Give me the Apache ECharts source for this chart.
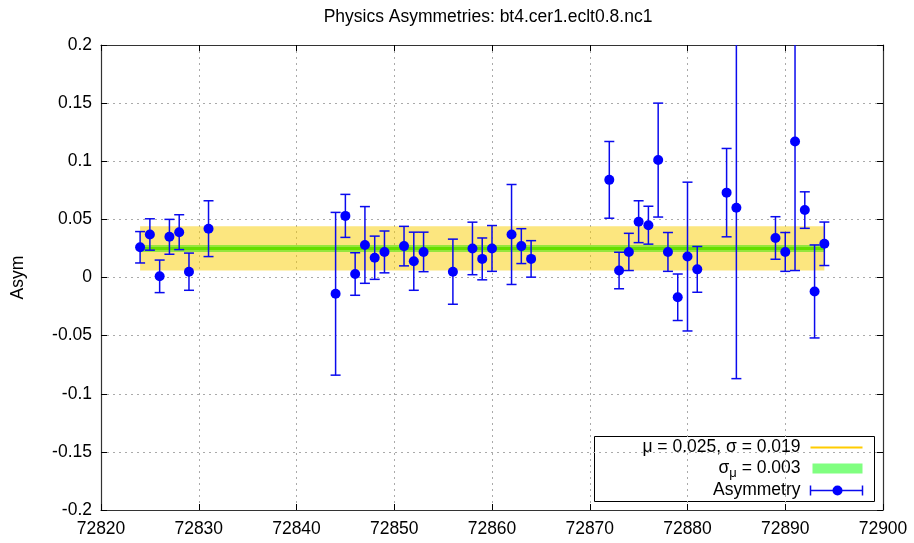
<!DOCTYPE html>
<html><head><meta charset="utf-8">
<script src="https://cdn.jsdelivr.net/npm/echarts@6/dist/echarts.min.js"></script>
<style>html,body{margin:0;padding:0;background:#fff}#c{width:914px;height:543px}</style>
</head><body><div id="c"></div>
<script>
const runs = [72824,72825,72826,72827,72828,72829,72831,72844,72845,72846,72847,72848,72849,72851,72852,72853,72856,72858,72859,72860,72862,72863,72864,72872,72873,72874,72875,72876,72877,72878,72879,72880,72881,72884,72885,72889,72890,72891,72892,72893,72894];
const asym = [0.026,0.037,0.001,0.035,0.039,0.005,0.042,-0.014,0.053,0.003,0.028,0.017,0.022,0.027,0.014,0.022,0.005,0.025,0.016,0.025,0.037,0.027,0.016,0.084,0.006,0.022,0.048,0.045,0.101,0.022,-0.017,0.018,0.007,0.073,0.060,0.034,0.022,0.117,0.058,-0.012,0.029];
const asymErr = [0.0135,0.0135,0.014,0.015,0.015,0.016,0.024,0.070,0.0185,0.0183,0.033,0.0186,0.018,0.017,0.025,0.017,0.028,0.0226,0.018,0.0197,0.043,0.015,0.0157,0.033,0.0157,0.016,0.018,0.0163,0.049,0.0167,0.020,0.064,0.0197,0.038,0.147,0.0183,0.0167,0.111,0.0157,0.040,0.0187];
const mu = 0.025, sigma = 0.019, sigmaMu = 0.003;
const xMin = 72820, xMax = 72900, xStep = 10;
const yMin = -0.2, yMax = 0.2, yStep = 0.05;
const titleText = 'Physics Asymmetries: bt4.cer1.eclt0.8.nc1';
const yName = 'Asym';
const legendMu = 'μ = ' + mu.toFixed(3) + ', σ = ' + sigma.toFixed(3);
const legendSigmaMu = ' = ' + sigmaMu.toFixed(3);
const legendAsym = 'Asymmetry';

const FONT = '"Liberation Sans", Arial, sans-serif';
const FS = 17.5;
const chart = echarts.init(document.getElementById('c'), null, {renderer: 'canvas'});

const x0 = runs[0], x1 = runs[runs.length - 1];
function bandItem(color) {
  return function (params, api) {
    const p0 = api.coord([api.value(0), api.value(2)]);
    const p1 = api.coord([api.value(1), api.value(3)]);
    return {type: 'rect', shape: {x: p0[0], y: p1[1], width: p1[0] - p0[0], height: p0[1] - p1[1]}, style: {fill: color}};
  };
}
const errData = runs.map((r, i) => [r, asym[i] - asymErr[i], asym[i] + asymErr[i]]);
const ptData = runs.map((r, i) => [r, asym[i]]);

const axisLineStyle = {color: '#333', width: 1.2};
const option = {
  animation: false,
  title: {text: titleText, left: 483, top: 3, textAlign: 'center',
    textStyle: {fontFamily: FONT, fontSize: FS, fontWeight: 'normal', color: '#000'}},
  grid: {left: 101, right: 31, top: 45, bottom: 33},
  xAxis: [
    {type: 'value', min: xMin, max: xMax, interval: xStep, position: 'bottom',
      axisLine: {show: true, onZero: false, lineStyle: axisLineStyle},
      axisTick: {show: true, inside: true, length: 6, lineStyle: {color: '#000'}},
      axisLabel: {fontFamily: FONT, fontSize: FS, color: '#000', margin: 10, formatter: v => String(v)},
      splitLine: {show: true, lineStyle: {color: '#aaa', type: [2, 4], width: 1}}},
    {type: 'value', min: xMin, max: xMax, interval: xStep, position: 'top',
      axisLine: {show: true, onZero: false, lineStyle: axisLineStyle},
      axisTick: {show: true, inside: true, length: 6, lineStyle: {color: '#000'}},
      axisLabel: {show: false}, splitLine: {show: false}}
  ],
  yAxis: [
    {type: 'value', min: yMin, max: yMax, interval: yStep, position: 'left',
      name: yName, nameLocation: 'middle', nameGap: 74, nameRotate: 90,
      nameTextStyle: {fontFamily: FONT, fontSize: FS, color: '#000'},
      axisLine: {show: true, onZero: false, lineStyle: axisLineStyle},
      axisTick: {show: true, inside: true, length: 6, lineStyle: {color: '#000'}},
      axisLabel: {fontFamily: FONT, fontSize: FS, color: '#000', margin: 9},
      splitLine: {show: true, lineStyle: {color: '#aaa', type: [2, 4], width: 1}}},
    {type: 'value', min: yMin, max: yMax, interval: yStep, position: 'right',
      axisLine: {show: true, onZero: false, lineStyle: axisLineStyle},
      axisTick: {show: true, inside: true, length: 6, lineStyle: {color: '#000'}},
      axisLabel: {show: false}, splitLine: {show: false}}
  ],
  series: [
    {type: 'custom', name: 'sigma', renderItem: bandItem('rgba(250,205,0,0.5)'),
      data: [[x0, x1, mu - sigma, mu + sigma]], z: 1, silent: true},
    {type: 'custom', name: 'sigmaMu', renderItem: bandItem('rgba(130,230,50,0.85)'),
      data: [[x0, x1, mu - sigmaMu, mu + sigmaMu]], z: 2, silent: true},
    {type: 'line', name: 'mu', data: [[x0, mu], [x1, mu]], symbol: 'none', z: 3,
      lineStyle: {color: '#66dd00', width: 3}, silent: true},
    {type: 'custom', name: 'err', clip: true, z: 4,
      renderItem: function (params, api) {
        const x = api.value(0);
        const lo = api.coord([x, api.value(1)]);
        const hi = api.coord([x, api.value(2)]);
        const c = 5;
        const st = {stroke: '#0a0aee', lineWidth: 1.5};
        return {type: 'group', children: [
          {type: 'line', shape: {x1: lo[0], y1: lo[1], x2: hi[0], y2: hi[1]}, style: st},
          {type: 'line', shape: {x1: lo[0] - c, y1: lo[1], x2: lo[0] + c, y2: lo[1]}, style: st},
          {type: 'line', shape: {x1: hi[0] - c, y1: hi[1], x2: hi[0] + c, y2: hi[1]}, style: st}
        ]};
      },
      data: errData},
    {type: 'scatter', name: 'Asymmetry', data: ptData, symbol: 'circle', symbolSize: 10, z: 5,
      itemStyle: {color: '#0000ff', opacity: 1}}
  ],
  graphic: [{
    type: 'group', left: 594, top: 436, z: 100,
    children: [
      {type: 'rect', shape: {x: 0, y: 0, width: 280, height: 65}, style: {fill: '#fff', stroke: '#000', lineWidth: 1}},
      {type: 'text', style: {x: 206, y: 11, text: legendMu, textAlign: 'right', textVerticalAlign: 'middle', font: FS + 'px ' + FONT, fill: '#000'}},
      {type: 'line', shape: {x1: 216, y1: 11, x2: 268, y2: 11}, style: {stroke: '#ffcc00', lineWidth: 2}},
      {type: 'text', style: {x: 206, y: 32, text: '{s|σ}{sub|μ}{n|' + legendSigmaMu + '}', textAlign: 'right', textVerticalAlign: 'middle', fill: '#000',
        rich: {s: {fontFamily: FONT, fontSize: FS}, sub: {fontFamily: FONT, fontSize: 13, padding: [10, 0, 0, 0]}, n: {fontFamily: FONT, fontSize: FS}}}},
      {type: 'rect', shape: {x: 218, y: 27, width: 50, height: 10}, style: {fill: '#80ff80'}},
      {type: 'text', style: {x: 206, y: 54, text: legendAsym, textAlign: 'right', textVerticalAlign: 'middle', font: FS + 'px ' + FONT, fill: '#000'}},
      {type: 'line', shape: {x1: 216, y1: 54, x2: 268, y2: 54}, style: {stroke: '#0a0aee', lineWidth: 1.5}},
      {type: 'line', shape: {x1: 216, y1: 49, x2: 216, y2: 59}, style: {stroke: '#0a0aee', lineWidth: 1.5}},
      {type: 'line', shape: {x1: 268, y1: 49, x2: 268, y2: 59}, style: {stroke: '#0a0aee', lineWidth: 1.5}},
      {type: 'circle', shape: {cx: 243, cy: 54, r: 5}, style: {fill: '#0000ff'}}
    ]
  }]
};
chart.setOption(option);
</script></body></html>
